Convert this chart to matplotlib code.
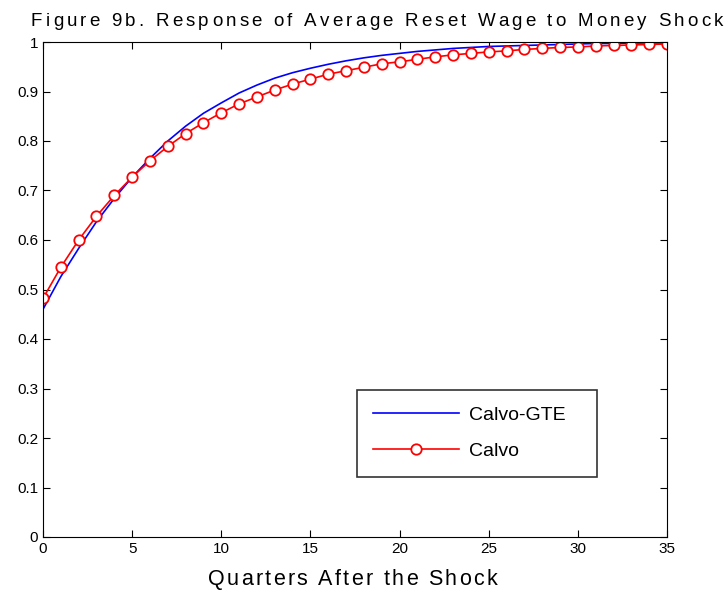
import numpy as np
import matplotlib.pyplot as plt

plt.rcParams['font.family'] = ['Liberation Sans', 'DejaVu Sans']

quarters = np.arange(0, 36)

# Calvo-GTE (blue line)
calvo_gte = [0.460, 0.526, 0.583, 0.637, 0.684, 0.727, 0.765, 0.800, 0.830, 0.856,
             0.877, 0.897, 0.913, 0.927, 0.938, 0.947, 0.955, 0.962, 0.968, 0.973,
             0.977, 0.981, 0.984, 0.987, 0.989, 0.991, 0.992, 0.993, 0.994, 0.995,
             0.996, 0.997, 0.997, 0.998, 0.998, 0.998]

# Calvo (red line with circles)
calvo = [0.482, 0.545, 0.600, 0.648, 0.690, 0.727, 0.760, 0.789, 0.815, 0.837,
         0.857, 0.875, 0.889, 0.903, 0.915, 0.925, 0.935, 0.942, 0.949, 0.956,
         0.960, 0.965, 0.970, 0.974, 0.977, 0.980, 0.982, 0.985, 0.987, 0.989,
         0.990, 0.992, 0.993, 0.994, 0.995, 0.996]

title = 'Figure 9b. Response of Average Reset Wage to Money Shock'
xlabel = 'Quarters After the Shock'

W, H = 726, 595
fig = plt.figure(figsize=(W / 100, H / 100), dpi=100)
ax = fig.add_axes([43 / W, 58 / H, 624 / W, 495 / H])
renderer = fig.canvas.get_renderer()


def char_width(ch, size):
    # width of a char incl. its advance, measured between two 'a's
    t1 = fig.text(0, 0, 'a' + ch + 'a', fontsize=size)
    t2 = fig.text(0, 0, 'aa', fontsize=size)
    w = t1.get_window_extent(renderer).width - t2.get_window_extent(renderer).width
    t1.remove()
    t2.remove()
    return w


def tracked_text(s, x0, x1, y, size):
    # MATLAB-style spaced text spanning x0..x1 pixels, baseline at y (from bottom)
    widths = [char_width(c, size) for c in s]
    track = (x1 - x0 - sum(widths)) / (len(s) - 1)
    x = x0
    for c, w in zip(s, widths):
        fig.text(x / W, y / H, c, fontsize=size, ha='left', va='baseline')
        x += w + track


ax.plot(quarters, calvo_gte, color='blue', lw=1.2, label='Calvo-GTE')
ax.plot(quarters, calvo, color='red', lw=1.2, marker='o', markersize=7.5,
        markerfacecolor='white', markeredgecolor='red', markeredgewidth=1.3,
        label='Calvo')

ax.set_xlim(0, 35)
ax.set_ylim(0, 1)
ax.set_xticks(np.arange(0, 36, 5))
ax.set_yticks(np.arange(0, 1.01, 0.1))
ax.set_yticklabels(['0', '0.1', '0.2', '0.3', '0.4', '0.5', '0.6', '0.7', '0.8', '0.9', '1'])
ax.tick_params(direction='in', top=True, right=True, labelsize=11, length=5)
for s in ax.spines.values():
    s.set_linewidth(0.8)

tracked_text(title, 31, 723, H - 26, 13.5)
tracked_text(xlabel, 208, 497, H - 585, 15.5)

leg = ax.legend(loc='upper left', bbox_to_anchor=(0.503, 0.297, 0.385, 0.0),
                mode='expand', borderaxespad=0, fontsize=14, fancybox=False,
                edgecolor='black', handlelength=4.4, handletextpad=0.5,
                borderpad=0.85, labelspacing=0.95)
leg.get_frame().set_linewidth(1.2)

fig.savefig('out.png', dpi=100)
